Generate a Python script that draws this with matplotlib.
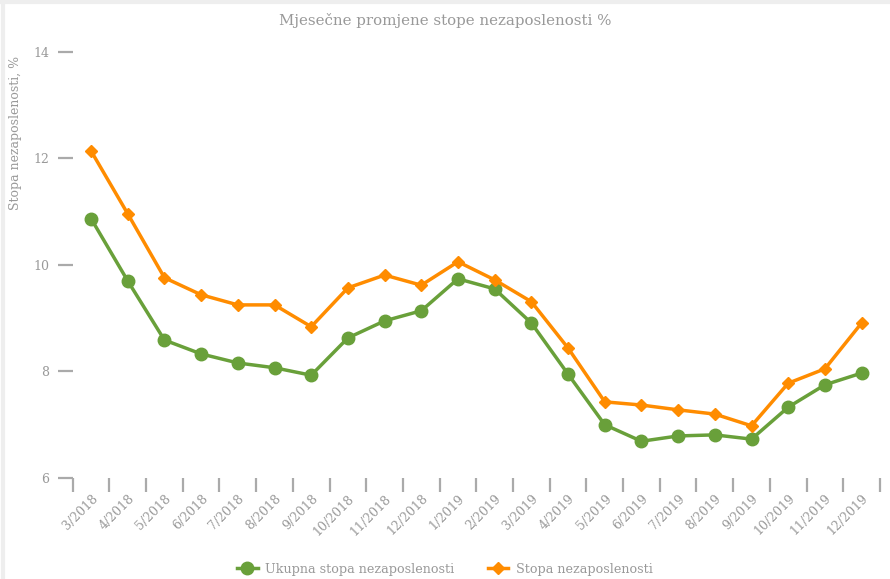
import matplotlib.pyplot as plt
from matplotlib.lines import Line2D

months = ['3/2018', '4/2018', '5/2018', '6/2018', '7/2018', '8/2018', '9/2018',
          '10/2018', '11/2018', '12/2018', '1/2019', '2/2019', '3/2019', '4/2019',
          '5/2019', '6/2019', '7/2019', '8/2019', '9/2019', '10/2019', '11/2019',
          '12/2019']
ukupna = [10.87, 9.70, 8.59, 8.33, 8.16, 8.07, 7.93, 8.63, 8.95, 9.14, 9.74,
          9.55, 8.91, 7.95, 7.00, 6.69, 6.79, 6.81, 6.73, 7.33, 7.75, 7.97]
stopa = [12.14, 10.96, 9.76, 9.44, 9.25, 9.25, 8.84, 9.57, 9.81, 9.62, 10.06,
         9.72, 9.31, 8.44, 7.43, 7.37, 7.28, 7.20, 6.98, 7.78, 8.05, 8.91]

green = '#69a03a'
orange = '#ff8c00'
grey = '#999999'

plt.rcParams['font.family'] = 'DejaVu Serif'

fig = plt.figure(figsize=(8.9, 5.79), dpi=100)
ax = fig.add_axes([0.0817, 0.1744, 0.907, 0.736])

x = list(range(len(months)))
ax.plot(x, ukupna, color=green, lw=2.5, marker='o', ms=9, zorder=3)
ax.plot(x, stopa, color=orange, lw=2.5, marker='D', ms=6.5, zorder=3)

ax.set_xlim(-0.5, len(months) - 0.5)
ax.set_ylim(6, 14)
for s in ax.spines.values():
    s.set_visible(False)

ax.set_yticks([6, 8, 10, 12, 14])
ax.tick_params(axis='y', length=11, width=1.6, color='#aaaaaa', labelcolor=grey,
               labelsize=9, pad=6)
ax.set_xticks(x)
ax.set_xticklabels(months, rotation=45, ha='right', va='top',
                   rotation_mode='anchor')
ax.tick_params(axis='x', which='major', length=0, labelcolor=grey,
               labelsize=9, pad=10)
ax.set_xticks([i - 0.5 for i in range(len(months) + 1)], minor=True)
ax.tick_params(axis='x', which='minor', length=10, width=1.6, color='#aaaaaa')

fig.text(0.5, 0.965, 'Mjesečne promjene stope nezaposlenosti %',
         ha='center', va='center', color=grey, fontsize=10.8)
fig.text(0.017, 0.77, 'Stopa nezaposlenosti, %', rotation=90,
         ha='center', va='center', color=grey, fontsize=9)

handles = [Line2D([], [], color=green, lw=2.5, marker='o', ms=9),
           Line2D([], [], color=orange, lw=2.5, marker='D', ms=6.5)]
fig.legend(handles, ['Ukupna stopa nezaposlenosti', 'Stopa nezaposlenosti'],
           loc='center', bbox_to_anchor=(0.5, 0.017), ncol=2, frameon=False,
           labelcolor=grey, fontsize=9.2, handlelength=1.6, handletextpad=0.6,
           columnspacing=2.6)

# light border of the page
fig.add_artist(Line2D([0.003, 0.003], [0, 1], color='#eeeeee', lw=3))
fig.add_artist(Line2D([0, 1], [0.997, 0.997], color='#eeeeee', lw=3))

fig.savefig('out.png', dpi=100)
